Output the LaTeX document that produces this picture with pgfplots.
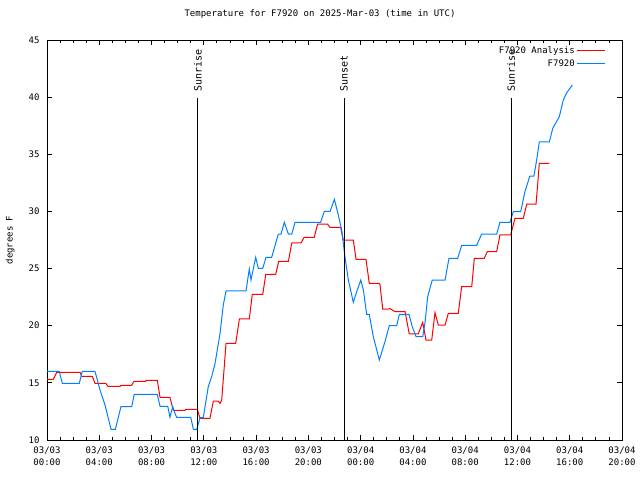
\documentclass[border=0pt]{standalone}
\usepackage{pgfplots}
\pgfplotsset{compat=1.18}
\usepackage{fontspec}
\setmainfont{DejaVu Sans Mono}
\definecolor{gred}{RGB}{255,0,0}
\definecolor{gblue}{RGB}{0,128,255}
\begin{document}
\begin{tikzpicture}
\begin{axis}[
  scale only axis, width=575pt, height=400pt,
  xmin=0, xmax=44, ymin=10, ymax=45,
  xtick={0,4,...,44},
  xticklabels={03/03\\00:00,03/03\\04:00,03/03\\08:00,03/03\\12:00,03/03\\16:00,03/03\\20:00,03/04\\00:00,03/04\\04:00,03/04\\08:00,03/04\\12:00,03/04\\16:00,03/04\\20:00},
  minor x tick num=3,
  ytick={10,15,...,45},
  tick align=inside, major tick length=5pt, minor tick length=3pt,
  every tick/.style={black, line width=0.8pt},
  axis line style={line width=1pt},
  /pgf/number format/assume math mode=true,
  font=\fontsize{9}{12.5}\selectfont,
  xticklabel style={align=center, yshift=-3pt},
  yticklabel style={xshift=-4pt},
  title={Temperature for F7920 on 2025-Mar-03 (time in UTC)},
  title style={at={(0.5,1)}, anchor=center, yshift=20pt, xshift=-14.5pt},
  ylabel={degrees F},
  ylabel style={at={(axis description cs:-0.064,0.5)}, anchor=center},
  legend style={draw=none, fill=none, at={(axis description cs:1,1)}, anchor=north east, xshift=-13pt, yshift=-2pt, row sep=1pt, font=\fontsize{9}{11}\selectfont},
  legend cell align=right, legend plot pos=right,
  legend image code/.code={\draw[#1] (10pt,0pt) -- (38pt,0pt);},
]
\addplot[gred, line width=1pt] coordinates {
(0,15.31)(0.48,15.31)(0.74,15.92)(2.53,15.92)(2.66,15.57)(3.47,15.57)(3.67,14.96)(4.49,14.96)
(4.67,14.7)(5.59,14.7)(5.66,14.79)(6.48,14.79)(6.66,15.14)(7.55,15.14)(7.58,15.22)(8.44,15.22)
(8.65,13.73)(9.41,13.73)(9.66,12.6)(10.56,12.6)(10.61,12.69)(11.50,12.69)(11.71,11.9)(12.47,11.9)
(12.73,13.41)(13.11,13.41)(13.24,13.2)(13.37,13.5)(13.70,18.46)(14.44,18.46)(14.72,20.59)(15.48,20.59)
(15.71,22.74)(16.51,22.74)(16.74,24.5)(17.50,24.5)(17.73,25.63)(18.47,25.63)(18.73,27.24)(19.44,27.24)
(19.67,27.73)(20.45,27.73)(20.71,28.9)(21.45,28.9)(21.66,28.6)(22.47,28.6)(22.67,27.5)(23.44,27.5)
(23.65,25.81)(24.41,25.81)(24.66,23.71)(25.41,23.71)(25.48,23.6)(25.69,21.46)(26.12,21.46)(26.25,21.5)
(26.63,21.23)(27.40,21.23)(27.72,19.28)(28.41,19.28)(28.75,20.3)(29.00,18.75)(29.44,18.75)(29.69,21.14)
(29.94,20.06)(30.46,20.06)(30.71,21.08)(31.47,21.08)(31.73,23.41)(32.50,23.41)(32.70,25.9)(33.46,25.9)
(33.69,26.48)(34.41,26.48)(34.66,27.94)(35.48,27.94)(35.81,29.4)(36.45,29.4)(36.71,30.65)(37.42,30.65)
(37.55,32.4)(37.67,34.21)(38.44,34.21)
};
\addlegendentry{F7920 Analysis}
\addplot[gblue, line width=1pt] coordinates {
(0,16.01)(0.94,16.01)(1.17,14.96)(2.47,14.96)(2.70,16.01)(3.67,16.01)(4.06,14.37)(4.44,13.06)
(4.90,10.93)(5.23,10.93)(5.66,12.92)(6.48,12.92)(6.68,14.0)(8.44,14.0)(8.65,12.95)(9.24,12.95)
(9.41,11.99)(9.62,12.92)(9.80,12.3)(9.93,11.99)(11.00,11.99)(11.20,10.93)(11.46,10.93)(11.71,11.96)
(11.96,11.96)(12.34,14.67)(12.60,15.54)(12.86,16.71)(13.24,19.33)(13.49,21.81)(13.70,23.04)(15.23,23.04)
(15.48,24.96)(15.61,24.0)(15.97,25.98)(16.17,25.02)(16.51,25.02)(16.76,25.98)(17.19,25.98)(17.70,28.02)
(17.91,28.02)(18.16,29.05)(18.47,28.02)(18.73,28.02)(18.98,29.05)(20.94,29.05)(21.22,30.0)(21.66,30.0)
(21.99,31.06)(22.29,29.69)(22.55,28.37)(22.80,26.04)(23.06,24.0)(23.44,22.05)(23.70,22.98)(24.01,24.0)
(24.21,23.13)(24.46,21.0)(24.66,21.0)(24.97,19.04)(25.43,17.0)(25.86,18.6)(26.19,20.0)(26.76,20.0)
(26.96,21.0)(27.70,21.0)(27.95,19.92)(28.24,19.04)(28.75,19.04)(28.93,20.3)(29.13,22.55)(29.48,24.0)
(30.46,24.0)(30.76,25.9)(31.43,25.9)(31.73,27.03)(32.88,27.03)(33.26,28.02)(34.41,28.02)(34.66,29.05)
(35.43,29.05)(35.68,29.98)(36.25,29.98)(36.57,31.73)(36.95,33.1)(37.26,33.1)(37.47,34.5)(37.67,36.08)
(38.44,36.08)(38.70,37.27)(39.20,38.29)(39.51,39.75)(39.77,40.39)(40.20,41.06)
};
\addlegendentry{F7920}
\addplot[black, line width=1pt, forget plot] coordinates {(11.55,10)(11.55,39.9)};
\addplot[black, line width=1pt, forget plot] coordinates {(22.73,10)(22.73,39.9)};
\addplot[black, line width=1pt, forget plot] coordinates {(35.51,10)(35.51,39.9)};
\node[rotate=90, anchor=west, inner sep=0pt, font=\fontsize{10}{12}\selectfont] at (axis cs:11.55,40.45) {Sunrise};
\node[rotate=90, anchor=west, inner sep=0pt, font=\fontsize{10}{12}\selectfont] at (axis cs:22.73,40.45) {Sunset};
\node[rotate=90, anchor=west, inner sep=0pt, font=\fontsize{10}{12}\selectfont] at (axis cs:35.51,40.45) {Sunrise};
\end{axis}
\pgfresetboundingbox
\path[use as bounding box] ([shift={(-47pt,-40pt)}]current axis.south west) rectangle ([shift={(18pt,40pt)}]current axis.north east);
\end{tikzpicture}
\end{document}
